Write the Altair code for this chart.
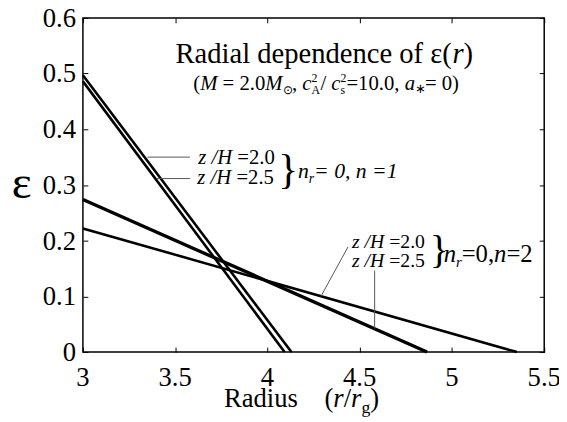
import altair as alt
import pandas as pd

# ---------------- data ----------------
line_ids = ["n1_zH2.0", "n1_zH2.5", "n2_zH2.5", "n2_zH2.0"]
r_start = [3.0, 3.0, 3.0, 3.0]
eps_start = [0.497, 0.486, 0.274, 0.222]
r_end = [4.130, 4.093, 4.865, 5.352]
eps_end = [0.0, 0.0, 0.0, 0.0]
line_width = [2.6, 2.6, 3.4, 2.6]

x_ticks = [3, 3.5, 4, 4.5, 5, 5.5]
y_ticks = [0, 0.1, 0.2, 0.3, 0.4, 0.5, 0.6]

# thin leader lines (annotation pointers)
lead_x = [3.35, 3.40, 4.437, 4.581]
lead_y = [0.350, 0.3115, 0.189, 0.146]
lead_x2 = [3.58, 3.58, 4.29, 4.581]
lead_y2 = [0.350, 0.3115, 0.100, 0.042]

# ---------------- layout constants ----------------
W, H = 468, 339
X0, X1 = 3.0, 5.5
Y0, Y1 = 0.0, 0.6
PXX = W / (X1 - X0)
PXY = H / (Y1 - Y0)
FONT = "Liberation Serif, Times New Roman, serif"

rows = []
for i, lid in enumerate(line_ids):
    rows.append(dict(id=lid, r=r_start[i], eps=eps_start[i], w=line_width[i]))
    rows.append(dict(id=lid, r=r_end[i], eps=eps_end[i], w=line_width[i]))
line_df = pd.DataFrame(rows)

lead_df = pd.DataFrame(dict(x=lead_x, y=lead_y, x2=lead_x2, y2=lead_y2))

xlab_df = pd.DataFrame(dict(x=x_ticks, y=[Y0 - 34 / PXY] * len(x_ticks),
                            text=[f"{v:g}" for v in x_ticks]))
ylab_df = pd.DataFrame(dict(x=[X0 - 7 / PXX] * len(y_ticks), y=y_ticks,
                            text=[f"{v:g}" for v in y_ticks]))

# approximate Times glyph advance widths (em)
NW = {'(': .333, ')': .333, ' ': .25, '=': .564, '.': .25, ',': .25, '/': .278,
      '}': .48, 'A': .722, 'R': .667, 'a': .444, 'd': .5, 'i': .278, 'l': .278,
      'u': .5, 's': .389, 'e': .444, 'p': .5, 'n': .5, 'c': .444, 'o': .5,
      'f': .333, 'ε': .44, 'g': .5, '⊙': .8, '∗': .5}
IW = {'M': .833, 'c': .444, 'a': .5, 'r': .389, 'z': .389, 'H': .722, 'n': .5,
      ' ': .25, '/': .278, '=': .675, ',': .25}


def run(x0, y0, segs):
    out = []
    off = 0.0
    for text, style, size, rise, adv in segs:
        table = IW if style == "italic" else NW
        w = sum(table.get(ch, 0.5) for ch in text) * size
        lead = (len(text) - len(text.lstrip(" "))) * table[" "] * size
        out.append(dict(text=text.strip(" "), style=style, size=size,
                        x=x0 + (off + lead) / PXX, y=y0 + rise / PXY))
        off += w if adv is None else adv
    return out


N, I = "normal", "italic"
ann = []
ann += run(3.502, 0.5186, [("Radial dependence of ε(", N, 29, 0, None),
                           ("r", I, 29, 0, None), (")", N, 29, 0, None)])
ann += run(3.598, 0.4708, [("(", N, 21, 0, None), ("M", I, 21, 0, None),
                           (" = 2.0", N, 21, 0, None), ("M", I, 21, 0, None),
                           ("⊙", N, 12, -4, None), (",", N, 21, 0, None),
                           (" ", N, 21, 0, None),
                           ("c", I, 21, 0, None), ("A", N, 12, -4, 0),
                           ("2", N, 12, 8, 9), ("/", N, 21, 0, None),
                           (" ", N, 21, 0, None),
                           ("c", I, 21, 0, None), ("s", N, 12, -4, 0),
                           ("2", N, 12, 8, None), ("=10.0,", N, 21, 0, None),
                           (" ", N, 21, 0, None),
                           ("a", I, 21, 0, None), ("∗", N, 13, -3, 10),
                           ("= 0)", N, 21, 0, None)])
ann += run(3.625, 0.338, [("z /H", I, 21, 0, None), (" =2.0", N, 21, 0, None)])
ann += run(3.620, 0.301, [("z /H", I, 21, 0, None), (" =2.5", N, 21, 0, None)])
ann += run(4.058, 0.304, [("}", N, 42, 0, None)])
ann += run(4.165, 0.313, [("n", I, 22, 0, None), ("r", I, 14, -5, None),
                          ("= 0, n =1", I, 22, 0, None)])
ann += run(4.458, 0.1876, [("z /H", I, 20, 0, None), (" =2.0", N, 20, 0, None)])
ann += run(4.458, 0.152, [("z /H", I, 20, 0, None), (" =2.5", N, 20, 0, None)])
ann += run(4.880, 0.159, [("}", N, 40, 0, None)])
ann += run(4.955, 0.161, [("n", I, 25, 0, None), ("r", I, 15, -5, None),
                          ("=0,", N, 25, 0, None), ("n", I, 25, 0, None),
                          ("=2", N, 25, 0, None)])
ann += run(3.764, -0.0991, [("Radius", N, 27, 0, None), ("    ", N, 27, 0, None),
                            ("(", N, 27, 0, None),
                            ("r", I, 27, 0, None), ("/", N, 27, 0, None),
                            ("r", I, 27, 0, None), ("g", N, 18, -6, None),
                            (")", N, 27, 0, None)])
ann += run(2.615, 0.276, [("ε", N, 48, 0, None)])
ann_df = pd.DataFrame([a for a in ann if a["text"]])

# ---------------- chart ----------------
xs = alt.Scale(domain=[X0, X1], nice=False, zero=False)
ys = alt.Scale(domain=[Y0, Y1], nice=False, zero=False)

common = dict(grid=False, domain=False, title=None, labels=False,
              tickColor="black", ticks=True, tickSize=5, tickWidth=1)

lines = alt.Chart(line_df).mark_line(color="black", strokeCap="butt").encode(
    x=alt.X("r:Q", scale=xs, axis=None),
    y=alt.Y("eps:Q", scale=ys, axis=None),
    detail="id:N",
    strokeWidth=alt.StrokeWidth("w:Q", scale=None, legend=None),
)

# inward ticks on all four sides: axes pushed across the plot with negative offsets
ticks_a = alt.Chart(line_df).mark_line(strokeOpacity=0).encode(
    x=alt.X("r:Q", scale=xs,
            axis=alt.Axis(orient="top", values=x_ticks, offset=-H, **common)),
    y=alt.Y("eps:Q", scale=ys,
            axis=alt.Axis(orient="right", values=y_ticks, offset=-W, **common)),
    detail="id:N",
)
ticks_b = alt.Chart(line_df).mark_line(strokeOpacity=0).encode(
    x=alt.X("r:Q", scale=xs,
            axis=alt.Axis(orient="bottom", values=x_ticks, offset=-H, **common)),
    y=alt.Y("eps:Q", scale=ys,
            axis=alt.Axis(orient="left", values=y_ticks, offset=-W, **common)),
    detail="id:N",
)

xlabels = alt.Chart(xlab_df).mark_text(
    font=FONT, fontSize=27, align="center", baseline="alphabetic", color="black"
).encode(x=alt.X("x:Q", scale=xs, axis=None),
         y=alt.Y("y:Q", scale=ys, axis=None), text="text:N")
ylabels = alt.Chart(ylab_df).mark_text(
    font=FONT, fontSize=27, align="right", baseline="middle", color="black", dy=1
).encode(x=alt.X("x:Q", scale=xs, axis=None),
         y=alt.Y("y:Q", scale=ys, axis=None), text="text:N")

leaders = alt.Chart(lead_df).mark_rule(color="#555555", strokeWidth=1).encode(
    x=alt.X("x:Q", scale=xs, axis=None),
    y=alt.Y("y:Q", scale=ys, axis=None),
    x2="x2:Q",
    y2="y2:Q",
)


def text_layer(style):
    return alt.Chart(ann_df).transform_filter(alt.datum.style == style).mark_text(
        font=FONT, align="left", baseline="alphabetic", color="black",
        fontStyle=style,
    ).encode(
        x=alt.X("x:Q", scale=xs, axis=None),
        y=alt.Y("y:Q", scale=ys, axis=None),
        text="text:N",
        size=alt.Size("size:Q", scale=None, legend=None),
    )


chart = alt.layer(
    lines, ticks_a, ticks_b, leaders, xlabels, ylabels,
    text_layer("normal"), text_layer("italic")
).resolve_axis(x="independent", y="independent").properties(
    width=W, height=H,
    autosize=alt.AutoSizeParams(type="none"),
    padding={"left": 76, "top": 7, "right": 15, "bottom": 72},
    background="white",
).configure_view(stroke="black", strokeWidth=1.5)

chart.save("out.html", embed_options={"renderer": "svg", "actions": False})
